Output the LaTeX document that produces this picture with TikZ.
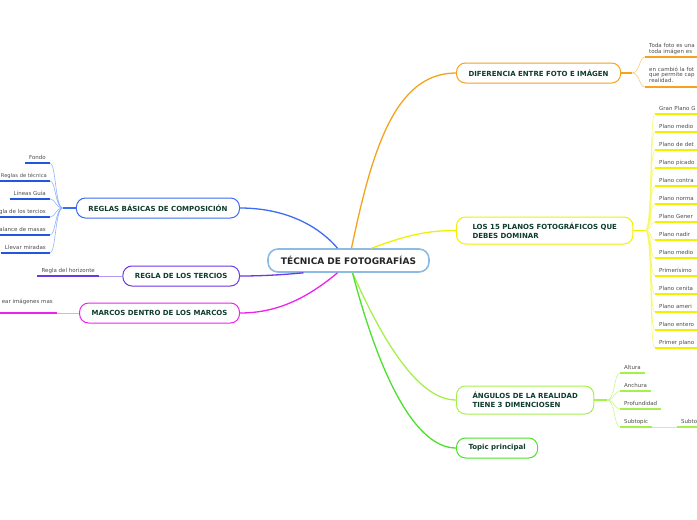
\documentclass[tikz,border=0pt]{standalone}
\usepackage{fontspec}
\setmainfont{DejaVu Sans}
\usepackage{xcolor}
\usetikzlibrary{positioning}

\definecolor{topictext}{HTML}{0E3C2D}
\definecolor{hubline}{HTML}{8CBBE3}
\definecolor{oraline}{HTML}{F5A21D}
\definecolor{oralight}{HTML}{FBCB7E}
\definecolor{yelline}{HTML}{F0F000}
\definecolor{yellight}{HTML}{F8F870}
\definecolor{limline}{HTML}{A6F04E}
\definecolor{limlight}{HTML}{C9F58F}
\definecolor{grnline}{HTML}{4BE12C}
\definecolor{bluline}{HTML}{3A6DF0}
\definecolor{blulight}{HTML}{94B4F6}
\definecolor{bluleaf}{HTML}{2356E0}
\definecolor{purline}{HTML}{6B38E8}
\definecolor{purlight}{HTML}{B09AF2}
\definecolor{magline}{HTML}{EE22EE}
\definecolor{maglight}{HTML}{F6A0F6}

\begin{document}
\begin{tikzpicture}[
    x=1pt, y=-1pt,
    node distance=7.6pt,
    hub/.style={draw=hubline, line width=1.6pt, rounded corners=10pt, fill=white, minimum height=23pt, inner xsep=13pt, font=\fontsize{9}{11}\selectfont\bfseries, text=black!85},
    topic/.style={draw=#1, line width=1pt, rounded corners=9pt, fill=white, minimum height=20pt, inner xsep=12pt, font=\fontsize{7}{9}\selectfont\bfseries, text=topictext},
    leaf/.style={font=\fontsize{5.5}{5.2}\selectfont, text=black!70, inner xsep=4pt, inner ysep=2.5pt, append after command={(\tikzlastnode.south west) edge[line width=1.4pt, draw=#1] (\tikzlastnode.south east)}},
    oneline/.style={text height=3.9pt, text depth=1.1pt},
    link/.style={line width=1.3pt, draw=#1},
    twig/.style={line width=0.6pt, draw=#1}
]
    \useasboundingbox (0,0) rectangle (697,520);
    \clip (0,0) rectangle (697,520);

    % main topics
    \node[hub] (tecnica) at (348.5,260.5) {TÉCNICA DE FOTOGRAFÍAS};
    \node[topic=oraline, anchor=west] (diferencia) at (456,73) {DIFERENCIA ENTRE FOTO E IMÁGEN};
    \node[topic=yelline, anchor=west, align=left, inner xsep=16pt, minimum height=27pt] (planos) at (456,230.5) {LOS 15 PLANOS FOTOGRÁFICOS QUE\\DEBES DOMINAR};
    \node[topic=limline, anchor=west, align=left, inner xsep=16pt, minimum height=28pt] (angulos) at (456,400) {ÁNGULOS DE LA REALIDAD\\TIENE 3 DIMENCIOSEN};
    \node[topic=grnline, anchor=west] (principal) at (456,448) {Topic principal};
    \node[topic=bluline, anchor=east] (reglas) at (240,208) {REGLAS BÁSICAS DE COMPOSICIÓN};
    \node[topic=purline, anchor=east] (tercios) at (240,276) {REGLA DE LOS TERCIOS};
    \node[topic=magline, anchor=east] (marcos) at (240,313) {MARCOS DENTRO DE LOS MARCOS};

    \draw[link=bluline] ([xshift=-11pt]tecnica.north) .. controls (315,222) and (280,208) .. (reglas.east);
    \draw[link=oraline] ([xshift=3pt]tecnica.north) .. controls (372,150) and (395,73) .. (diferencia.west);
    \draw[link=yelline] ([xshift=23pt]tecnica.north) .. controls (405,236) and (425,230.5) .. (planos.west);
    \draw[link=purline] ([xshift=-45pt]tecnica.south) .. controls (280,275) and (260,276) .. (tercios.east);
    \draw[link=magline] ([xshift=-11pt]tecnica.south) .. controls (305,300) and (275,313) .. (marcos.east);
    \draw[link=limline] ([xshift=4pt]tecnica.south) .. controls (378,330) and (415,400) .. (angulos.west);
    \draw[link=grnline] ([xshift=4pt]tecnica.south) .. controls (382,385) and (418,448) .. (principal.west);

    % diferencia
    \node[leaf=oraline, anchor=south west, text width=58pt, align=left] (d1) at (645,57) {Toda foto es una\\toda imágen es};
    \node[leaf=oraline, anchor=south west, text width=58pt, align=left, inner ysep=4pt] (d2) at (645,87) {en cambió la fot\\que permite cap\\realidad.};
    \coordinate (db) at (632,73);
    \draw[link=oraline] (diferencia.east) -- (db);
    \draw[twig=oralight] (db) .. controls +(8,0) and +(-6,0) .. (d1.south west)
        (db) .. controls +(8,0) and +(-6,0) .. (d2.south west);

    % planos
    \node[leaf=yelline, oneline, text width=50pt, anchor=south west] (p1) at (655,114) {Gran Plano G};
    \node[leaf=yelline, oneline, text width=50pt, below=of p1] (p2) {Plano medio};
    \node[leaf=yelline, oneline, text width=50pt, below=of p2] (p3) {Plano de det};
    \node[leaf=yelline, oneline, text width=50pt, below=of p3] (p4) {Plano picado};
    \node[leaf=yelline, oneline, text width=50pt, below=of p4] (p5) {Plano contra};
    \node[leaf=yelline, oneline, text width=50pt, below=of p5] (p6) {Plano norma};
    \node[leaf=yelline, oneline, text width=50pt, below=of p6] (p7) {Plano Gener};
    \node[leaf=yelline, oneline, text width=50pt, below=of p7] (p8) {Plano nadir};
    \node[leaf=yelline, oneline, text width=50pt, below=of p8] (p9) {Plano medio};
    \node[leaf=yelline, oneline, text width=50pt, below=of p9] (p10) {Primerísimo};
    \node[leaf=yelline, oneline, text width=50pt, below=of p10] (p11) {Plano cenita};
    \node[leaf=yelline, oneline, text width=50pt, below=of p11] (p12) {Plano ameri};
    \node[leaf=yelline, oneline, text width=50pt, below=of p12] (p13) {Plano entero};
    \node[leaf=yelline, oneline, text width=50pt, below=of p13] (p14) {Primer plano};
    \coordinate (pb) at (645,230.5);
    \draw[link=yelline] (planos.east) -- (pb);
    \draw[twig=yellight] (pb) .. controls +(8,0) and +(-6,0) .. (p1.south west)
        (pb) .. controls +(8,0) and +(-6,0) .. (p2.south west)
        (pb) .. controls +(8,0) and +(-6,0) .. (p3.south west)
        (pb) .. controls +(8,0) and +(-6,0) .. (p4.south west)
        (pb) .. controls +(8,0) and +(-6,0) .. (p5.south west)
        (pb) .. controls +(8,0) and +(-6,0) .. (p6.south west)
        (pb) .. controls +(8,0) and +(-6,0) .. (p7.south west)
        (pb) .. controls +(8,0) and +(-6,0) .. (p8.south west)
        (pb) .. controls +(8,0) and +(-6,0) .. (p9.south west)
        (pb) .. controls +(8,0) and +(-6,0) .. (p10.south west)
        (pb) .. controls +(8,0) and +(-6,0) .. (p11.south west)
        (pb) .. controls +(8,0) and +(-6,0) .. (p12.south west)
        (pb) .. controls +(8,0) and +(-6,0) .. (p13.south west)
        (pb) .. controls +(8,0) and +(-6,0) .. (p14.south west);

    % angulos
    \node[leaf=limline, oneline, anchor=south west] (a1) at (620,373) {Altura};
    \node[leaf=limline, oneline, anchor=south west] (a2) at (620,391) {Anchura};
    \node[leaf=limline, oneline, anchor=south west] (a3) at (620,409) {Profundidad};
    \node[leaf=limline, oneline, anchor=south west] (a4) at (620,427) {Subtopic};
    \node[leaf=limline, oneline, anchor=south west, text width=26pt, align=left] (a5) at (677,427) {Subto};
    \coordinate (ab) at (607,400);
    \draw[link=limline] (angulos.east) -- (ab);
    \draw[twig=limlight] (ab) .. controls +(8,0) and +(-6,0) .. (a1.south west)
        (ab) .. controls +(8,0) and +(-6,0) .. (a2.south west)
        (ab) .. controls +(8,0) and +(-6,0) .. (a3.south west)
        (ab) .. controls +(8,0) and +(-6,0) .. (a4.south west);
    \draw[twig=limlight] (a4.south east) -- (a5.south west);

    % reglas
    \node[leaf=bluleaf, oneline, anchor=south east] (r1) at (50,163) {Fondo};
    \node[leaf=bluleaf, oneline, anchor=south east, inner xsep=3pt, font=\fontsize{5.2}{5.2}\selectfont] (r2) at (50,181) {Reglas de técnica};
    \node[leaf=bluleaf, oneline, anchor=south east] (r3) at (50,199) {Líneas Guía};
    \node[leaf=bluleaf, oneline, anchor=south east] (r4) at (50,217) {gla de los tercios};
    \node[leaf=bluleaf, oneline, anchor=south east] (r5) at (50,235) {alance de masas};
    \node[leaf=bluleaf, oneline, anchor=south east] (r6) at (50,253) {Llevar miradas};
    \coordinate (rb) at (63,208);
    \draw[link=bluline] (reglas.west) -- (rb);
    \draw[twig=blulight] (rb) .. controls +(-8,0) and +(6,0) .. (r1.south east)
        (rb) .. controls +(-8,0) and +(6,0) .. (r2.south east)
        (rb) .. controls +(-8,0) and +(6,0) .. (r3.south east)
        (rb) .. controls +(-8,0) and +(6,0) .. (r4.south east)
        (rb) .. controls +(-8,0) and +(6,0) .. (r5.south east)
        (rb) .. controls +(-8,0) and +(6,0) .. (r6.south east);

    % tercios, marcos
    \node[leaf=purline, oneline, anchor=south east] (t1) at (99,276) {Regla del horizonte};
    \draw[twig=purlight] (tercios.west) -- (t1.south east);
    \node[leaf=magline, anchor=south east, align=left, inner ysep=4pt] (m1) at (57,313) {ear imágenes mas\\\mbox{}};
    \draw[twig=maglight] (marcos.west) -- (m1.south east);
\end{tikzpicture}
\end{document}
